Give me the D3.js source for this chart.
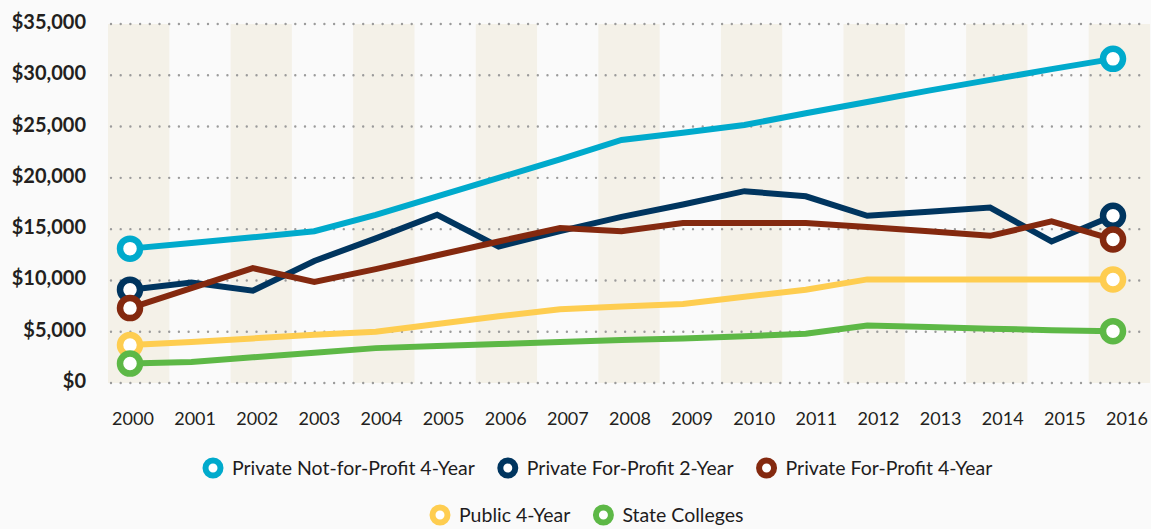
<!DOCTYPE html>
<html>
<head>
<meta charset="UTF-8">
<title>Tuition by sector, 2000-2016</title>
<script src="https://d3js.org/d3.v7.min.js"></script>
<style>
    html, body {
        margin: 0;
        padding: 0;
        background: #fafafa;
    }
    svg {
        display: block;
        font-family: "Lato", "Open Sans", sans-serif;
    }
    .y-label {
        font-size: 20px;
        font-weight: 700;
        fill: #231f20;
    }
    .x-label {
        font-size: 18px;
        fill: #231f20;
    }
    .legend text {
        font-size: 19.5px;
        fill: #1e1c1d;
    }
    .grid line {
        stroke: #9b9b9b;
        stroke-width: 2.4;
        stroke-linecap: round;
        stroke-dasharray: 0 9.7;
    }
</style>
</head>
<body>
<svg width="1151" height="529"></svg>
<script>
    // years on the x axis
    var years = [2000, 2001, 2002, 2003, 2004, 2005, 2006, 2007, 2008,
                 2009, 2010, 2011, 2012, 2013, 2014, 2015, 2016];

    // y axis ticks (dollars)
    var yTicks = [0, 5000, 10000, 15000, 20000, 25000, 30000, 35000];

    // values
    var privateNotForProfit4 = [13100, 13650, 14200, 14800, 16400, 18200, 20000, 21800, 23700,
                                24400, 25150, 26300, 27400, 28500, 29550, 30600, 31600];
    var privateForProfit2 = [9100, 9800, 9000, 11900, 14100, 16400, 13300, 14800, 16200,
                             17400, 18700, 18200, 16300, 16700, 17100, 13800, 16300];
    var privateForProfit4 = [7300, 9250, 11200, 9850, 11100, 12450, 13800, 15100, 14800,
                             15600, 15600, 15600, 15200, 14800, 14350, 15750, 14000];
    var public4 = [3700, 4000, 4350, 4700, 5000, 5750, 6500, 7200, 7450,
                   7700, 8400, 9100, 10100, 10100, 10100, 10100, 10100];
    var stateColleges = [1900, 2050, 2500, 2950, 3400, 3600, 3800, 4000, 4200,
                         4350, 4550, 4800, 5600, 5450, 5300, 5150, 5050];

    var seriesNames = ["Private Not-for-Profit 4-Year", "Private For-Profit 2-Year",
                       "Private For-Profit 4-Year", "Public 4-Year", "State Colleges"];
    var seriesColors = ["#00aacc", "#00355f", "#84290f", "#fecd50", "#5db846"];
    var seriesValues = [privateNotForProfit4, privateForProfit2, privateForProfit4, public4, stateColleges];

    var legendRows = [[0, 1, 2], [3, 4]];

    var series = seriesNames.map(function(name, i) {
        return {
            name: name,
            color: seriesColors[i],
            values: years.map(function(yr, j) { return { year: yr, value: seriesValues[i][j] }; })
        };
    });

    var svg = d3.select("svg");

    var x = d3.scaleLinear().domain([2000, 2016]).range([130, 1113]);
    var xLabel = d3.scalePoint().domain(years).range([133, 1127]);
    var band = d3.scaleBand().domain(years).range([108, 1150]);
    var y = d3.scaleLinear().domain([0, 35000]).range([383, 24]);

    // shaded columns on even years
    svg.append("g")
        .selectAll("rect")
        .data(years.filter(function(d) { return d % 2 === 0; }))
        .enter().append("rect")
        .attr("x", function(d) { return band(d); })
        .attr("width", band.bandwidth())
        .attr("y", y(35000))
        .attr("height", y(0) - y(35000))
        .attr("fill", "#f4f1e8");

    // dotted gridlines
    svg.append("g")
        .attr("class", "grid")
        .selectAll("line")
        .data(yTicks)
        .enter().append("line")
        .attr("x1", 111)
        .attr("x2", 1140)
        .attr("y1", function(d) { return y(d); })
        .attr("y2", function(d) { return y(d); });

    // y labels
    var fmt = d3.format("$,");
    svg.append("g")
        .selectAll("text")
        .data(yTicks)
        .enter().append("text")
        .attr("class", "y-label")
        .attr("x", 86)
        .attr("y", function(d) { return y(d) - 2; })
        .attr("dy", "0.35em")
        .attr("text-anchor", "end")
        .text(function(d) { return fmt(d); });

    // x labels
    svg.append("g")
        .selectAll("text")
        .data(years)
        .enter().append("text")
        .attr("class", "x-label")
        .attr("x", function(d) { return xLabel(d); })
        .attr("y", 419)
        .attr("dy", "0.35em")
        .attr("text-anchor", "middle")
        .text(function(d) { return d; });

    var line = d3.line()
        .x(function(d) { return x(d.year); })
        .y(function(d) { return y(d.value); });

    svg.append("g")
        .selectAll("path")
        .data(series)
        .enter().append("path")
        .attr("d", function(d) { return line(d.values); })
        .attr("fill", "none")
        .attr("stroke", function(d) { return d.color; })
        .attr("stroke-width", 6)
        .attr("stroke-linejoin", "miter");

    // end point markers
    var markers = svg.append("g");
    series.forEach(function(s) {
        var ends = [s.values[0], s.values[s.values.length - 1]];
        markers.selectAll(null)
            .data(ends)
            .enter().append("circle")
            .attr("cx", function(d) { return x(d.year); })
            .attr("cy", function(d) { return y(d.value); })
            .attr("r", 10)
            .attr("fill", "#fff")
            .attr("stroke", s.color)
            .attr("stroke-width", 6.5);
    });

    // legend
    var legend = svg.append("g").attr("class", "legend");
    var rowY = [468, 515];
    var rowStart = [213, 440];
    legendRows.forEach(function(row, r) {
        var cx = rowStart[r];
        row.forEach(function(i) {
            var s = series[i];
            legend.append("circle")
                .attr("cx", cx)
                .attr("cy", rowY[r])
                .attr("r", 7.5)
                .attr("fill", "#fff")
                .attr("stroke", s.color)
                .attr("stroke-width", 6);
            var t = legend.append("text")
                .attr("x", cx + 19)
                .attr("y", rowY[r])
                .attr("dy", "0.35em")
                .text(s.name);
            cx += 19 + t.node().getComputedTextLength() + 33;
        });
    });
</script>
</body>
</html>
